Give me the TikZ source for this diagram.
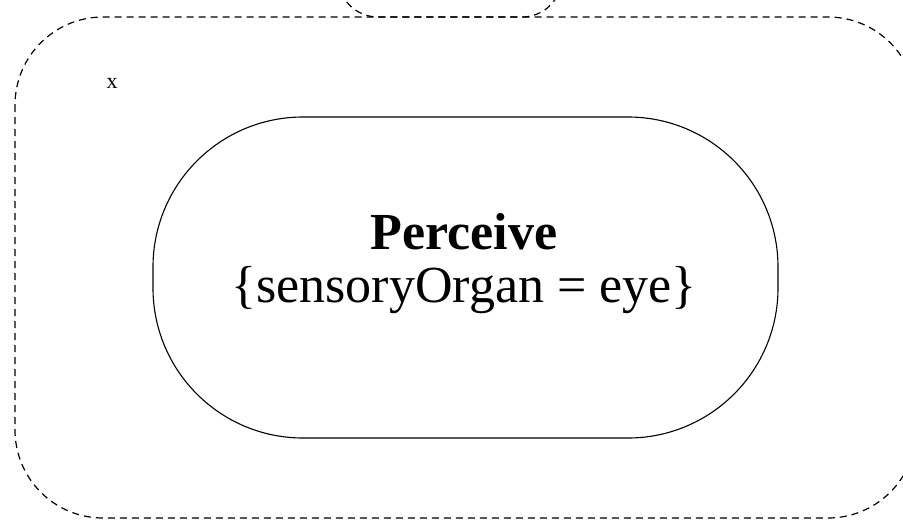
\documentclass[tikz,border=0pt]{standalone}
\usepackage{fontspec}
\setmainfont{Liberation Serif}
\tikzset{
  dashedframe/.style={draw, line width=1.2pt, dash pattern=on 7pt off 5pt},
  actionbox/.style={draw, line width=1.1pt, rounded corners=150pt, minimum width=625pt, minimum height=321pt, inner sep=0pt},
  titletext/.style={font=\fontsize{52}{60}\selectfont\bfseries, inner sep=0pt},
  bodytext/.style={font=\fontsize{52}{60}\selectfont, inner sep=0pt},
  smalltext/.style={font=\fontsize{22}{26}\selectfont, inner sep=0pt}
}
\begin{document}
\begin{tikzpicture}[x=1pt,y=-1pt]
\useasboundingbox (0,0) rectangle (903,520);
\clip (0,0) rectangle (903,520);
\draw[dashedframe, rounded corners=40pt] (338,-120) rectangle (562,17);
\draw[dashedframe, rounded corners=88pt] (15,17) rectangle (916,518);
\node[smalltext] (xlabel) at (112,83) {x};
\node[actionbox] (perceive) at (465.5,277.5) {};
\node[titletext] (ptitle) at (464,232) {Perceive};
\node[bodytext] (pbody) at (464,290) {\{sensoryOrgan = eye\}};
\end{tikzpicture}
\end{document}
